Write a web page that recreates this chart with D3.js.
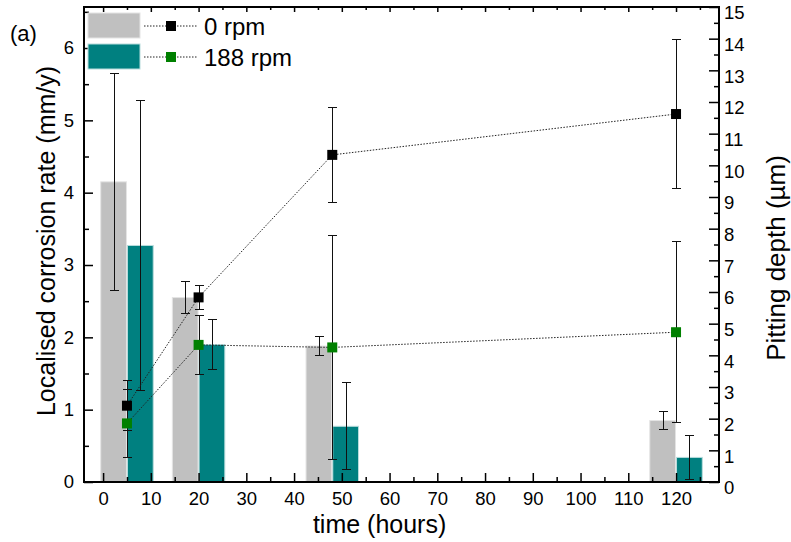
<!DOCTYPE html>
<html>
<head>
<meta charset="utf-8">
<script src="https://cdn.jsdelivr.net/npm/d3@7"></script>
<style>
  html, body { margin: 0; padding: 0; background: #fff; }
  svg { display: block; font-family: "Liberation Sans", Arial, Helvetica, sans-serif; }
</style>
</head>
<body>
<svg id="chart" width="791" height="542"></svg>
<script>
// Sampling times (hours)
const times = [5, 20, 48, 120];

// Localised corrosion rate (mm/y), bars on the left axis
const rate0 = [4.15, 2.55, 1.88, 0.85];
const rate0Err = [1.5, 0.22, 0.135, 0.12];
const rate188 = [3.27, 1.9, 0.77, 0.34];
const rate188Err = [2.0, 0.34, 0.6, 0.3];

// Pitting depth (µm), squares on the right axis
const depth0 = [2.41, 5.83, 10.33, 11.62];
const depth0Err = [0.78, 0.38, 1.5, 2.34];
const depth188 = [1.85, 4.33, 4.25, 4.73];
const depth188Err = [1.07, 0.94, 3.55, 2.86];

// Axis ticks
const xTicks = [0, 10, 20, 30, 40, 50, 60, 70, 80, 90, 100, 110, 120];
const leftTicks = [0, 1, 2, 3, 4, 5, 6];
const rightTicks = d3.range(0, 16);

const seriesNames = ["0 rpm", "188 rpm"];
const barColors = ["#c0c0c0", "#008080"];
const barEdge = ["#e4e4e4", "#b8dcdc"];
const markColors = ["#000000", "#008000"];

const svg = d3.select("#chart");
const L = 84, R = 719, T = 7, B = 482;

const x = d3.scaleLinear().domain([-4, 129]).range([L, R]);
const yL = d3.scaleLinear().domain([0, 6.567]).range([B, T]);
const yR = d3.scaleLinear().domain([0, 15]).range([B, T]);
const barW = 5.6; // hours

// ---- bars with error bars ----
const barSeries = [
  { vals: rate0, err: rate0Err, off: -barW, i: 0 },
  { vals: rate188, err: rate188Err, off: 0, i: 1 }
];
const gBars = svg.append("g");
barSeries.forEach(s => {
  gBars.selectAll(null).data(times).enter().append("rect")
    .attr("x", t => x(t + s.off) + 0.5)
    .attr("width", t => x(t + s.off + barW) - x(t + s.off) - 1)
    .attr("y", (t, k) => yL(s.vals[k]))
    .attr("height", (t, k) => B - yL(s.vals[k]))
    .attr("fill", barColors[s.i])
    .attr("stroke", barEdge[s.i])
    .attr("stroke-width", 1);
});

function errorBars(g, xs, ys, errs, scale) {
  xs.forEach((cx, k) => {
    const y1 = scale(ys[k] + errs[k]), y0 = scale(ys[k] - errs[k]);
    g.append("line").attr("x1", cx).attr("x2", cx).attr("y1", y1).attr("y2", y0);
    g.append("line").attr("x1", cx - 4.5).attr("x2", cx + 4.5).attr("y1", y1).attr("y2", y1);
    g.append("line").attr("x1", cx - 4.5).attr("x2", cx + 4.5).attr("y1", y0).attr("y2", y0);
  });
}
const gErr = svg.append("g").attr("stroke", "#111").attr("stroke-width", 1).attr("shape-rendering", "crispEdges");
barSeries.forEach(s => {
  errorBars(gErr, times.map(t => Math.round(x(t + s.off + barW / 2)) + 0.5), s.vals, s.err, yL);
});

// ---- pitting depth lines, error bars and markers ----
const pointSeries = [
  { vals: depth0, err: depth0Err, i: 0 },
  { vals: depth188, err: depth188Err, i: 1 }
];
const line = d3.line().x(d => x(d[0])).y(d => yR(d[1]));
pointSeries.forEach(s => {
  svg.append("path")
    .attr("d", line(times.map((t, k) => [t, s.vals[k]])))
    .attr("fill", "none")
    .attr("stroke", "#222")
    .attr("stroke-width", 1)
    .attr("stroke-dasharray", "1.5,1.5");
});
const gErr2 = svg.append("g").attr("stroke", "#111").attr("stroke-width", 1).attr("shape-rendering", "crispEdges");
pointSeries.forEach(s => {
  errorBars(gErr2, times.map(t => Math.round(x(t)) + 0.5), s.vals, s.err, yR);
});
pointSeries.forEach(s => {
  svg.append("g").selectAll("rect").data(times).enter().append("rect")
    .attr("x", t => x(t) - 5)
    .attr("y", (t, k) => yR(s.vals[k]) - 5)
    .attr("width", 10).attr("height", 10)
    .attr("fill", markColors[s.i]);
});

// ---- axes ----
function styleAxis(g) {
  g.select(".domain").remove();
  g.selectAll(".tick line").attr("stroke", "#000").attr("stroke-width", 1.5);
  g.selectAll(".tick text").attr("fill", "#000").attr("font-size", 18.5)
    .attr("font-family", "Liberation Sans, Arial, sans-serif");
}
// bottom
svg.append("g").attr("transform", `translate(0,${B})`)
  .call(d3.axisBottom(x).tickValues(xTicks).tickSize(-9).tickPadding(10).tickFormat(d3.format("d")))
  .call(styleAxis);
svg.append("g").attr("transform", `translate(0,${B})`)
  .call(d3.axisBottom(x).tickValues(xTicks.map(v => v + 5).filter(v => v < 129)).tickSize(-5).tickFormat(""))
  .call(styleAxis);
// top (ticks only)
svg.append("g").attr("transform", `translate(0,${T})`)
  .call(d3.axisTop(x).tickValues(xTicks).tickSize(-5).tickFormat(""))
  .call(styleAxis);
svg.append("g").attr("transform", `translate(0,${T})`)
  .call(d3.axisTop(x).tickValues(xTicks.map(v => v + 5).filter(v => v < 129)).tickSize(-3).tickFormat(""))
  .call(styleAxis);
// left
svg.append("g").attr("transform", `translate(${L},0)`)
  .call(d3.axisLeft(yL).tickValues(leftTicks).tickSize(-9).tickPadding(10).tickFormat(d3.format("d")))
  .call(styleAxis);
svg.append("g").attr("transform", `translate(${L},0)`)
  .call(d3.axisLeft(yL).tickValues(leftTicks.map(v => v + 0.5)).tickSize(-5).tickFormat(""))
  .call(styleAxis);
// right
svg.append("g").attr("transform", `translate(${R},0)`)
  .call(d3.axisRight(yR).tickValues(rightTicks).tickSize(-10).tickPadding(5).tickFormat(d3.format("d")))
  .call(styleAxis)
  .call(g => g.selectAll(".tick text").attr("y", 6));
svg.append("g").attr("transform", `translate(${R},0)`)
  .call(d3.axisRight(yR).tickValues(rightTicks.slice(0, 15).map(v => v + 0.5)).tickSize(-5).tickFormat(""))
  .call(styleAxis);

// frame
svg.append("rect").attr("x", L).attr("y", T).attr("width", R - L).attr("height", B - T)
  .attr("fill", "none").attr("stroke", "#000").attr("stroke-width", 2);

// ---- titles ----
svg.append("text").attr("x", (x(0) + x(120)) / 2 - 10).attr("y", 533)
  .attr("text-anchor", "middle").attr("font-size", 25).text("time (hours)");
svg.append("text").attr("transform", "translate(55,241) rotate(-90)")
  .attr("text-anchor", "middle").attr("font-size", 25).text("Localised corrosion rate (mm/y)");
svg.append("text").attr("transform", "translate(785,258) rotate(-90)")
  .attr("text-anchor", "middle").attr("font-size", 26).text("Pitting depth (µm)");
svg.append("text").attr("x", 10).attr("y", 41).attr("font-size", 22).text("(a)");

// ---- legend ----
const legRows = [{ y: 13 }, { y: 44 }];
legRows.forEach((r, i) => {
  const g = svg.append("g");
  g.append("rect").attr("x", 88).attr("y", r.y).attr("width", 52).attr("height", 25)
    .attr("fill", barColors[i]).attr("stroke", barEdge[i]).attr("stroke-width", 1);
  const cy = r.y + 13;
  g.append("line").attr("x1", 144).attr("x2", 198).attr("y1", cy).attr("y2", cy)
    .attr("stroke", "#222").attr("stroke-width", 1).attr("stroke-dasharray", "1.5,1.5");
  g.append("rect").attr("x", 166).attr("y", cy - 5).attr("width", 10).attr("height", 10)
    .attr("fill", markColors[i]);
  g.append("text").attr("x", 204).attr("y", cy + 9).attr("font-size", 24).text(seriesNames[i]);
});
</script>
</body>
</html>
